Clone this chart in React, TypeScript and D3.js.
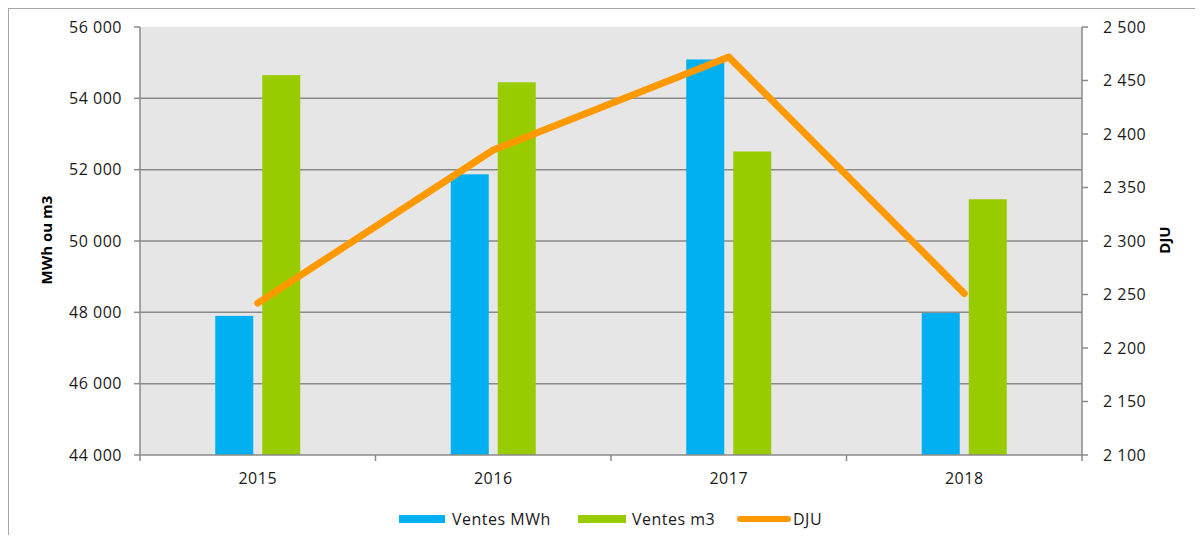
import React from "react";
import * as d3 from "d3";

const years = ["2015", "2016", "2017", "2018"];
const ventesMWh = [47900, 51870, 55090, 47980];
const ventesM3 = [54650, 54450, 52510, 51170];
const dju = [2242, 2385, 2472, 2251];
const leftTicks = [44000, 46000, 48000, 50000, 52000, 54000, 56000];
const rightTicks = [2100, 2150, 2200, 2250, 2300, 2350, 2400, 2450, 2500];

const fmt = (v: number) => {
  const s = String(v);
  return s.replace(/\B(?=(\d{3})+(?!\d))/g, " ");
};

export default function App() {
  const L = 140, R = 1082, T = 27, B = 455;
  const x = d3.scaleBand<string>().domain(years).range([L, R]);
  const yL = d3.scaleLinear().domain([44000, 56000]).range([B, T]);
  const yR = d3.scaleLinear().domain([2100, 2500]).range([B, T]);
  const barW = 38;
  const off = 23.5;
  const axisCol = "#8a8a8a";
  const font = "'Open Sans', Lato, sans-serif";
  const fs = 16;
  const ls = 0.5;
  const line = d3
    .line<number>()
    .x((_, i) => (x(years[i]) as number) + x.bandwidth() / 2)
    .y((d) => yR(d));
  const bounds = [...years.map((y) => x(y) as number), R];
  return (
    <svg width={1187} height={527} style={{ display: "block" }}>
      <g transform="translate(-8,-8)" fontFamily={font}>
        <rect x={8.5} y={8.5} width={1300} height={700} fill="#fff" stroke="#a6a6a6" strokeWidth={1} />
        <rect x={L} y={T} width={R - L} height={B - T} fill="#e6e6e6" />
        {leftTicks.slice(1, -1).map((t) => (
          <line key={t} x1={L} x2={R} y1={yL(t)} y2={yL(t)} stroke={axisCol} strokeWidth={1.5} />
        ))}
        {years.map((yr, i) => {
          const c = (x(yr) as number) + x.bandwidth() / 2;
          return (
            <g key={yr}>
              <rect x={c - off - barW / 2} y={yL(ventesMWh[i])} width={barW} height={B - yL(ventesMWh[i])} fill="#00b0f0" />
              <rect x={c + off - barW / 2} y={yL(ventesM3[i])} width={barW} height={B - yL(ventesM3[i])} fill="#99cc00" />
            </g>
          );
        })}
        <path d={line(dju) || ""} fill="none" stroke="#ff9900" strokeWidth={7} strokeLinecap="round" strokeLinejoin="round" />
        {/* left axis */}
        <line x1={L} x2={L} y1={T} y2={B} stroke={axisCol} strokeWidth={1.5} />
        {leftTicks.map((t) => (
          <g key={t}>
            <line x1={L - 6} x2={L} y1={yL(t)} y2={yL(t)} stroke={axisCol} strokeWidth={1.5} />
            <text x={122} y={yL(t)} dy="0.35em" textAnchor="end" fontSize={fs} letterSpacing={ls} fill="#1a1a1a">
              {fmt(t)}
            </text>
          </g>
        ))}
        {/* right axis */}
        <line x1={R} x2={R} y1={T} y2={B} stroke={axisCol} strokeWidth={1.5} />
        {rightTicks.map((t) => (
          <g key={t}>
            <line x1={R} x2={R + 6} y1={yR(t)} y2={yR(t)} stroke={axisCol} strokeWidth={1.5} />
            <text x={1103} y={yR(t)} dy="0.35em" textAnchor="start" fontSize={fs} letterSpacing={ls} fill="#1a1a1a">
              {fmt(t)}
            </text>
          </g>
        ))}
        {/* bottom axis */}
        <line x1={L} x2={R} y1={B} y2={B} stroke={axisCol} strokeWidth={1.5} />
        {bounds.map((b, i) => (
          <line key={i} x1={b} x2={b} y1={B} y2={B + 6} stroke={axisCol} strokeWidth={1.5} />
        ))}
        {years.map((yr) => (
          <text key={yr} x={(x(yr) as number) + x.bandwidth() / 2} y={478} dy="0.35em" textAnchor="middle" fontSize={fs} letterSpacing={ls} fill="#1a1a1a">
            {yr}
          </text>
        ))}
        {/* axis titles */}
        <text transform="translate(47,240) rotate(-90)" textAnchor="middle" dy="0.35em" fontSize={15} fontWeight="bold" fill="#000">
          MWh ou m3
        </text>
        <text transform="translate(1165,240) rotate(-90)" textAnchor="middle" dy="0.35em" fontSize={15} fontWeight="bold" fill="#000">
          DJU
        </text>
        {/* legend */}
        <rect x={399} y={515} width={46} height={8} fill="#00b0f0" />
        <text x={452} y={519} dy="0.35em" fontSize={fs} letterSpacing={ls} fill="#1a1a1a">Ventes MWh</text>
        <rect x={578} y={515} width={48} height={8} fill="#99cc00" />
        <text x={632} y={519} dy="0.35em" fontSize={fs} letterSpacing={ls} fill="#1a1a1a">Ventes m3</text>
        <line x1={740} x2={788} y1={519} y2={519} stroke="#ff9900" strokeWidth={6} strokeLinecap="round" />
        <text x={793} y={519} dy="0.35em" fontSize={fs} letterSpacing={ls} fill="#1a1a1a">DJU</text>
      </g>
    </svg>
  );
}
